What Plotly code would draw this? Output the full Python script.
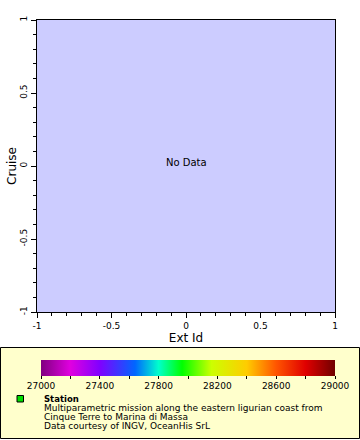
import plotly.graph_objects as go

# ---- data ----
x_range = [-1, 1]
y_range = [-1, 1]
axis_tickvals = [-1, -0.5, 0, 0.5, 1]
axis_ticktext = ["-1", "-0.5", "0", "0.5", "1"]
cbar_min = 27000
cbar_max = 29000
cbar_tickvals = [27000, 27200, 27400, 27600, 27800, 28000, 28200, 28400, 28600, 28800, 29000]
cbar_ticktext = ["27000", "", "27400", "", "27800", "", "28200", "", "28600", "", "29000"]
cbar_stops = [0, 0.1, 0.2, 0.32, 0.4, 0.48, 0.58, 0.7, 0.8, 0.9, 1.0]
cbar_colors = ["#800080", "#E000E0", "#8000FF", "#0066FF", "#00FFCC", "#00FF00",
               "#CCFF00", "#FFCC00", "#FF5500", "#E00000", "#700000"]
legend_title = "Station"
legend_lines = [
    "Multiparametric mission along the eastern ligurian coast from",
    "Cinque Terre to Marina di Massa",
    "Data courtesy of INGV, OceanHis SrL",
]

# ---- layout geometry (pixels) ----
W, H = 360, 440
L, R, T, B = 37, 335, 20, 312
PW, PH = R - L, B - T


def px(xp):
    return (xp - L) / PW


def py(yp):
    return (B - yp) / PH


FONT = "DejaVu Sans"

fig = go.Figure()

# empty trace carrying the colour scale
fig.add_trace(go.Scatter(
    x=[None], y=[None], mode="markers", showlegend=False, hoverinfo="skip",
    marker=dict(
        color=[cbar_min], cmin=cbar_min, cmax=cbar_max,
        colorscale=[[s, c] for s, c in zip(cbar_stops, cbar_colors)],
        showscale=True,
        colorbar=dict(
            orientation="h",
            x=px(41), xanchor="left",
            y=py(360), yanchor="top",
            len=294, lenmode="pixels",
            thickness=16, thicknessmode="pixels",
            xpad=0, ypad=0, outlinewidth=0,
            tickmode="array", tickvals=cbar_tickvals, ticktext=cbar_ticktext,
            ticks="outside", ticklen=3, tickcolor="black",
            tickfont=dict(family=FONT, size=9, color="black"),
        ),
    ),
))

axis_common = dict(
    range=x_range, showgrid=False, zeroline=False, automargin=False,
    showline=True, linecolor="black", linewidth=1, mirror=True,
    ticks="outside", ticklen=5, tickcolor="black",
    tickmode="array", tickvals=axis_tickvals, ticktext=axis_ticktext,
    tickfont=dict(family=FONT, size=9, color="black"),
    minor=dict(dtick=0.1, ticks="outside", ticklen=3, tickcolor="black", showgrid=False),
)

fig.update_xaxes(**axis_common, title=dict(text="Ext Id", font=dict(family=FONT, size=12, color="black"), standoff=3))
fig.update_yaxes(**{**axis_common, "range": y_range}, tickangle=-90,
                 title=dict(text="Cruise", font=dict(family=FONT, size=12, color="black"), standoff=0))

shapes = [
    dict(type="rect", xref="paper", yref="paper",
         x0=px(0.5), x1=px(359.5), y0=py(347.5), y1=py(438.5),
         fillcolor="#FFFFCC", line=dict(color="black", width=1), layer="below"),
    dict(type="rect", xref="paper", yref="paper",
         x0=px(17), x1=px(23.5), y0=py(395.5), y1=py(402),
         fillcolor="#00DD00", line=dict(color="black", width=1), layer="above"),
]

annotations = [
    dict(text="No Data", x=0, y=0, xref="x", yref="y", showarrow=False, yshift=4,
         font=dict(family=FONT, size=10, color="black")),
    dict(text="<b>" + legend_title + "</b>", x=px(42), y=py(398.5), xref="paper", yref="paper",
         xanchor="left", yanchor="middle", showarrow=False,
         font=dict(family=FONT, size=8.5, color="black")),
]
for i, line in enumerate(legend_lines):
    annotations.append(dict(text=line, x=px(42), y=py(407.5 + 9 * i), xref="paper", yref="paper",
                            xanchor="left", yanchor="middle", showarrow=False,
                            font=dict(family=FONT, size=9, color="black")))

fig.update_layout(
    width=W, height=H,
    margin=dict(l=L, r=W - R, t=T, b=H - B, pad=0, autoexpand=False),
    paper_bgcolor="white", plot_bgcolor="#CCCCFF",
    shapes=shapes, annotations=annotations,
    showlegend=False,
)

fig.write_html("out.html", config={"displayModeBar": False},
               post_script="document.body.style.margin='0';document.body.style.overflow='hidden';")
